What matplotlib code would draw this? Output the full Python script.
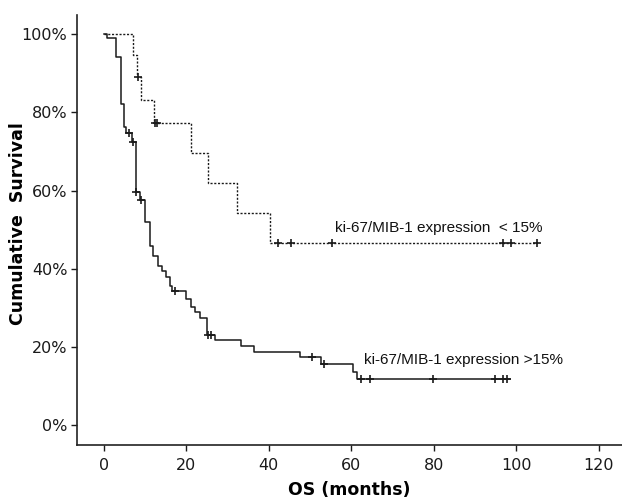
import matplotlib
matplotlib.use("Agg")
import matplotlib.pyplot as plt
from matplotlib.ticker import FuncFormatter

# Low ki-67 group (<15%) - dashed
low_times = [0, 7.0, 8.0, 9.0, 12.1, 21.1, 25.3, 32.3, 40.4, 105.0]
low_surv = [100, 94.6, 89.0, 83.1, 77.2, 69.5, 61.8, 54.3, 46.5, 46.5]
low_cens_t = [8.3, 12.4, 13.0, 42.3, 45.4, 55.4, 96.8, 98.8, 105.0]
low_cens_s = [89.0, 77.2, 77.2, 46.5, 46.5, 46.5, 46.5, 46.5, 46.5]

# High ki-67 group (>15%) - solid
high_times = [0, 0.8, 3.0, 4.1, 4.9, 5.5, 6.8, 7.7, 8.7, 9.95, 11.2, 11.9, 13.2,
              14.1, 15.2, 16.1, 16.5, 19.9, 21.1, 22.2, 23.3, 25.1, 26.9, 33.4,
              36.4, 47.6, 52.8, 60.5, 61.4, 98.5]
high_surv = [100, 98.9, 94.2, 82.2, 76.3, 74.8, 72.5, 59.7, 57.5, 52.0, 45.8, 43.2, 40.7,
             39.4, 37.9, 35.5, 34.4, 32.2, 30.2, 28.9, 27.5, 23.0, 21.7, 20.3,
             18.8, 17.5, 15.6, 13.5, 11.7, 11.7]
high_cens_t = [6.1, 7.1, 7.9, 9.1, 17.2, 25.3, 26.1, 50.5, 53.4, 62.5, 64.6, 79.8, 94.9, 96.9, 97.9]
high_cens_s = [74.8, 72.5, 59.7, 57.5, 34.4, 23.0, 23.0, 17.5, 15.6, 11.7, 11.7, 11.7, 11.7, 11.7, 11.7]

x_ticks = [0, 20, 40, 60, 80, 100, 120]
y_ticks = [0, 20, 40, 60, 80, 100]
label_low = "ki-67/MIB-1 expression  < 15%"
label_high = "ki-67/MIB-1 expression >15%"

plt.rcParams['font.family'] = ['DejaVu Sans']

fig = plt.figure(figsize=(6.22, 5.0), dpi=100)
ax = fig.add_axes([77/622, 55/500, 1 - 77/622, (445-15)/500])

lc = '#1a1a1a'
ax.step(low_times, low_surv, where='post', color=lc, lw=1.0, linestyle=(0, (1.5, 1.2)))
ax.plot(low_cens_t, low_cens_s, '+', color=lc, ms=6, mew=1.2)
ax.step(high_times, high_surv, where='post', color=lc, lw=1.1)
ax.plot(high_cens_t, high_cens_s, '+', color=lc, ms=6, mew=1.2)

ax.set_xlim(-6.5, 125.7)
ax.set_ylim(-5.1, 104.9)
ax.set_xticks(x_ticks)
ax.set_yticks(y_ticks)
ax.yaxis.set_major_formatter(FuncFormatter(lambda v, p: f"{int(v)}%"))

for s in ['top', 'right']:
    ax.spines[s].set_visible(False)
for s in ['left', 'bottom']:
    ax.spines[s].set_linewidth(1.2)
    ax.spines[s].set_color('#222222')
ax.tick_params(axis='both', direction='out', length=4, width=1.0, labelsize=11.5,
               colors='#1a1a1a', pad=3)
ax.tick_params(axis='x', pad=5)

ax.set_xlabel("OS (months)", fontsize=12.5, fontweight='bold', labelpad=6)
ax.set_ylabel("Cumulative  Survival", fontsize=12.5, fontweight='bold')
ax.yaxis.set_label_coords(-0.092, 0.515)

ax.text(56.2, 50.3, label_low, fontsize=11, va='center', ha='left', color='#111111',
        family=['Liberation Sans', 'DejaVu Sans'])
ax.text(63.0, 16.6, label_high, fontsize=11, va='center', ha='left', color='#111111',
        family=['Liberation Sans', 'DejaVu Sans'])

fig.savefig("out.png", dpi=100)
